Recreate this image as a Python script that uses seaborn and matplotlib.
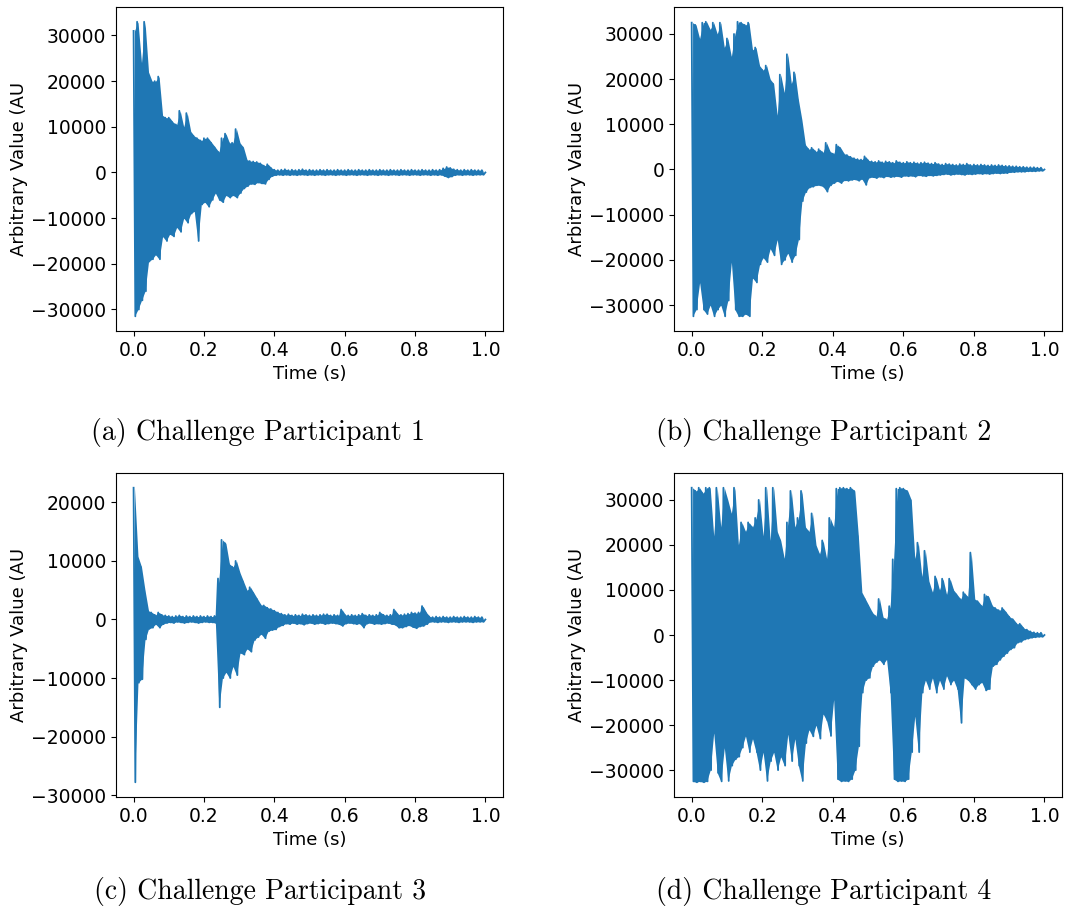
import numpy as np
import pandas as pd
import matplotlib
matplotlib.use("Agg")
import matplotlib.pyplot as plt
import seaborn as sns

# Peak envelope of each recording:
# one max and one min per 10 ms window, in thousands (AU)
bin_width = 0.01

p1_max = [31, 33, 24, 33, 22, 20, 20, 21, 12.5, 12,
          12, 11, 10.5, 13.5, 10, 13, 9, 8, 7.5, 7,
          7.5, 7.5, 6.5, 5.5, 4.5, 7.5, 8.5, 6.5, 6.5, 9.5,
          6.5, 5.5, 2.8, 2.5, 2.4, 2.3, 2.0, 1.5, 1.8, 1.0,
          0.6, 0.5, 0.6, 0.7, 0.5, 0.6, 0.5, 0.6, 0.7, 0.5,
          0.6, 0.5, 0.5, 0.6, 0.5, 0.6, 0.5, 0.5, 0.6, 0.5,
          0.5, 0.6, 0.5, 0.5, 0.6, 0.5, 0.5, 0.6, 0.5, 0.5,
          0.6, 0.5, 0.5, 0.6, 0.5, 0.5, 0.6, 0.5, 0.5, 0.6,
          0.5, 0.5, 0.6, 0.5, 0.5, 0.6, 0.5, 0.6, 0.9, 1.2,
          1.0, 0.7, 0.6, 0.5, 0.6, 0.5, 0.6, 0.5, 0.5, 0.5]
p1_min = [-31.5, -30, -28, -26, -19.5, -19, -18, -19, -14, -15,
          -13.5, -14, -12, -13, -10, -11, -9, -8.5, -15, -7,
          -6.5, -7.5, -6, -4.5, -6, -6.5, -5, -5.5, -5, -5.5,
          -4.5, -3.5, -3, -2.5, -2.6, -2.2, -2.4, -2.5, -1.5, -0.8,
          -0.6, -0.5, -0.6, -0.5, -0.6, -0.5, -0.6, -0.5, -0.5, -0.6,
          -0.5, -0.6, -0.5, -0.5, -0.6, -0.5, -0.5, -0.6, -0.5, -0.5,
          -0.6, -0.5, -0.5, -0.6, -0.5, -0.5, -0.6, -0.5, -0.5, -0.6,
          -0.5, -0.5, -0.6, -0.5, -0.5, -0.6, -0.5, -0.5, -0.6, -0.5,
          -0.5, -0.6, -0.5, -0.5, -0.6, -0.5, -0.6, -0.5, -0.8, -1.1,
          -0.9, -0.6, -0.5, -0.6, -0.5, -0.5, -0.6, -0.5, -0.5, -0.5]

p2_max = [32.5, 32, 29, 32.5, 32.7, 31, 32.5, 30, 32.5, 27,
          29, 25, 30, 32.7, 32.5, 32, 32.5, 26.5, 27, 23,
          22, 23, 20, 19, 12, 21, 17, 25.5, 19, 21.5,
          15.5, 11, 5.5, 4.5, 4.8, 4, 4.5, 3.8, 5.9, 4,
          3.5, 5.5, 4.8, 3.5, 3.2, 2.8, 2.5, 2.3, 2.2, 2.9,
          2.0, 1.8, 1.7, 1.9, 1.6, 1.8, 1.7, 1.5, 1.9, 1.6,
          1.5, 1.7, 1.5, 1.6, 1.4, 1.5, 1.6, 1.4, 1.3, 1.5,
          1.2, 1.1, 1.3, 1.2, 1.1, 1.0, 1.2, 1.1, 1.3, 1.0,
          1.1, 1.0, 1.1, 1.0, 0.9, 1.0, 0.9, 1.0, 0.9, 0.8,
          0.8, 0.7, 0.7, 0.6, 0.6, 0.5, 0.5, 0.5, 0.4, 0.4]
p2_min = [-32.5, -31, -25, -31, -32, -30, -32.5, -31, -30, -32.5,
          -29, -20.5, -31, -32.5, -32.5, -32, -32.5, -24, -25, -21,
          -19.5, -20.5, -17.5, -19, -15.5, -21, -20, -18.5, -20.5, -19,
          -15.5, -7, -5, -4, -3.8, -3.5, -3.5, -3.8, -4.9, -3.5,
          -3, -2.6, -3, -2.4, -2.5, -2.3, -2.2, -2.5, -2.1, -3.4,
          -1.8, -1.7, -1.9, -1.6, -1.8, -1.5, -1.7, -1.6, -1.5, -1.7,
          -1.4, -1.5, -1.4, -1.6, -1.3, -1.4, -1.5, -1.3, -1.4, -1.3,
          -1.2, -1.1, -1.0, -1.2, -1.1, -1.0, -1.1, -1.2, -1.0, -1.1,
          -1.0, -0.9, -1.0, -0.9, -1.0, -0.9, -0.8, -0.9, -0.8, -0.8,
          -0.6, -0.6, -0.5, -0.5, -0.5, -0.4, -0.4, -0.4, -0.3, -0.3]

p3_max = [22.5, 10.8, 9, 5, 1.5, 1.2, 0.8, 1.2, 0.8, 0.7,
          0.6, 0.5, 0.6, 0.7, 0.5, 0.6, 0.5, 0.6, 0.5, 0.6,
          0.5, 0.6, 0.5, 0.6, 7, 13.6, 13, 9.5, 9, 10,
          8, 6.5, 5, 5.5, 4.5, 3.5, 2.5, 2.4, 2.0, 1.8,
          1.5, 1.2, 1.0, 0.8, 0.9, 0.7, 0.8, 0.7, 0.9, 0.8,
          0.7, 0.8, 0.7, 0.8, 0.9, 0.9, 0.7, 0.8, 0.7, 1.7,
          0.8, 0.7, 0.8, 0.7, 0.8, 1.0, 0.7, 0.8, 0.7, 0.8,
          1.2, 0.8, 0.7, 0.8, 1.7, 0.9, 0.8, 0.9, 1.0, 1.2,
          1.1, 1.2, 2.3, 1.2, 0.5, 0.4, 0.5, 0.4, 0.5, 0.4,
          0.4, 0.5, 0.4, 0.4, 0.5, 0.4, 0.4, 0.5, 0.4, 0.4]
p3_min = [-27.8, -10.8, -10.2, -3.4, -1.6, -1.4, -0.8, -1.4, -0.8, -0.6,
          -0.5, -0.6, -0.4, -0.5, -0.6, -0.5, -0.4, -0.5, -0.6, -0.5,
          -0.4, -0.5, -0.5, -0.6, -15, -10, -9, -10, -8, -9.5,
          -5.7, -6, -5, -5.5, -3.5, -3, -2.5, -3.2, -2.0, -1.8,
          -1.7, -1.2, -1.0, -0.7, -0.8, -0.6, -0.8, -0.7, -0.9, -0.7,
          -0.6, -0.8, -0.7, -0.6, -0.8, -0.7, -0.6, -0.7, -0.8, -1.1,
          -0.7, -0.6, -0.7, -0.8, -0.7, -1.4, -0.7, -0.6, -0.8, -0.7,
          -0.8, -0.7, -0.6, -0.8, -0.9, -1.4, -1.4, -1.2, -1.0, -1.3,
          -1.5, -1.2, -1.1, -0.8, -0.4, -0.4, -0.5, -0.4, -0.4, -0.5,
          -0.4, -0.4, -0.5, -0.4, -0.4, -0.4, -0.5, -0.4, -0.4, -0.4]

p4_max = [32.7, 32, 32.7, 31.5, 32.7, 32.7, 22, 32.7, 24, 32.7,
          30, 27, 32.7, 20, 25, 23, 25, 24, 26, 30,
          22, 32.7, 21, 32.7, 23, 21, 17, 25, 32, 24,
          26, 32, 24, 23, 27, 20, 18, 21, 17, 26,
          24, 32.5, 32.7, 32.7, 32.5, 32.7, 32, 22, 9.5, 8,
          6.5, 5, 4.2, 8, 4, 3.5, 6.4, 16.8, 32.5, 32.7,
          32.5, 32, 30, 17, 20.5, 13, 18.7, 12, 9.5, 13,
          10, 12.5, 9, 12.5, 10, 9, 8, 9.5, 8.5, 18.3,
          8, 7.5, 6.5, 9, 8.5, 6.5, 6, 5.5, 6, 5,
          4, 3.5, 2.5, 2.5, 1.5, 1.2, 0.8, 0.6, 0.5, 0.5]
p4_min = [-32.5, -32.7, -32.5, -32.7, -32.5, -30, -21.7, -30.6, -32.5, -25,
          -32.4, -29, -27.6, -27, -25, -22.4, -26, -23, -26, -30,
          -26, -32.4, -28, -26, -30, -27, -29, -22, -28, -23,
          -29, -32.4, -24, -21, -22.5, -20, -23, -17.5, -19, -22.4,
          -14.3, -32, -32.5, -32.4, -32.5, -32, -30, -24.7, -12.8, -10,
          -9.5, -6.9, -6, -5.5, -6.5, -5.4, -12.8, -32, -32.5, -32.4,
          -32.5, -32, -26, -18, -26, -12.8, -10, -12, -9.5, -12.8,
          -10, -12, -9, -11, -10, -12, -19.5, -9.5, -10, -11,
          -12, -11, -10.5, -12.3, -12, -6.9, -6.5, -5.5, -4.7, -4,
          -3.2, -2.8, -1.7, -1.5, -1, -0.8, -0.6, -0.5, -0.4, -0.4]

captions = ["(a) Challenge Participant 1", "(b) Challenge Participant 2",
            "(c) Challenge Participant 3", "(d) Challenge Participant 4"]
envelopes = [(p1_max, p1_min), (p2_max, p2_min), (p3_max, p3_min), (p4_max, p4_min)]

wave_color = "#1f77b4"


def to_frame(hi, lo):
    # alternate max / min inside each window so the line sweeps the envelope
    t, v = [], []
    for i, (a, b) in enumerate(zip(hi, lo)):
        t += [i * bin_width, i * bin_width + bin_width / 2]
        v += [a * 1000, b * 1000]
    t.append(len(hi) * bin_width)
    v.append(0)
    return pd.DataFrame({"Time (s)": t, "Value": v})


fig = plt.figure(figsize=(10.8, 9.16), dpi=100)
boxes = [[0.1074, 0.6386, 0.3583, 0.3537], [0.6241, 0.6386, 0.3593, 0.3537],
         [0.1074, 0.1299, 0.3583, 0.3537], [0.6241, 0.1299, 0.3593, 0.3537]]
cap_pos = [(0.239, 0.528), (0.763, 0.528), (0.241, 0.027), (0.763, 0.027)]

for box, (hi, lo), cap, (cx, cy) in zip(boxes, envelopes, captions, cap_pos):
    ax = fig.add_axes(box)
    df = to_frame(hi, lo)
    # solid body of the waveform between the window max and min
    tc = np.arange(len(hi)) * bin_width + bin_width / 4
    ax.fill_between(tc, np.array(lo) * 1000, np.array(hi) * 1000,
                    color=wave_color, linewidth=0)
    sns.lineplot(data=df, x="Time (s)", y="Value", sort=False, estimator=None,
                 color=wave_color, linewidth=1.3, ax=ax)
    ax.set_xticks([0.0, 0.2, 0.4, 0.6, 0.8, 1.0])
    ax.set_xlabel("Time (s)", fontsize=13)
    ax.set_ylabel("Arbitrary Value (AU", fontsize=13, labelpad=2)
    ax.tick_params(labelsize=13.5)
    fig.text(cx, cy, cap, ha="center", va="center", fontsize=20, family="cmr10")

fig.savefig("out.png", dpi=100)
